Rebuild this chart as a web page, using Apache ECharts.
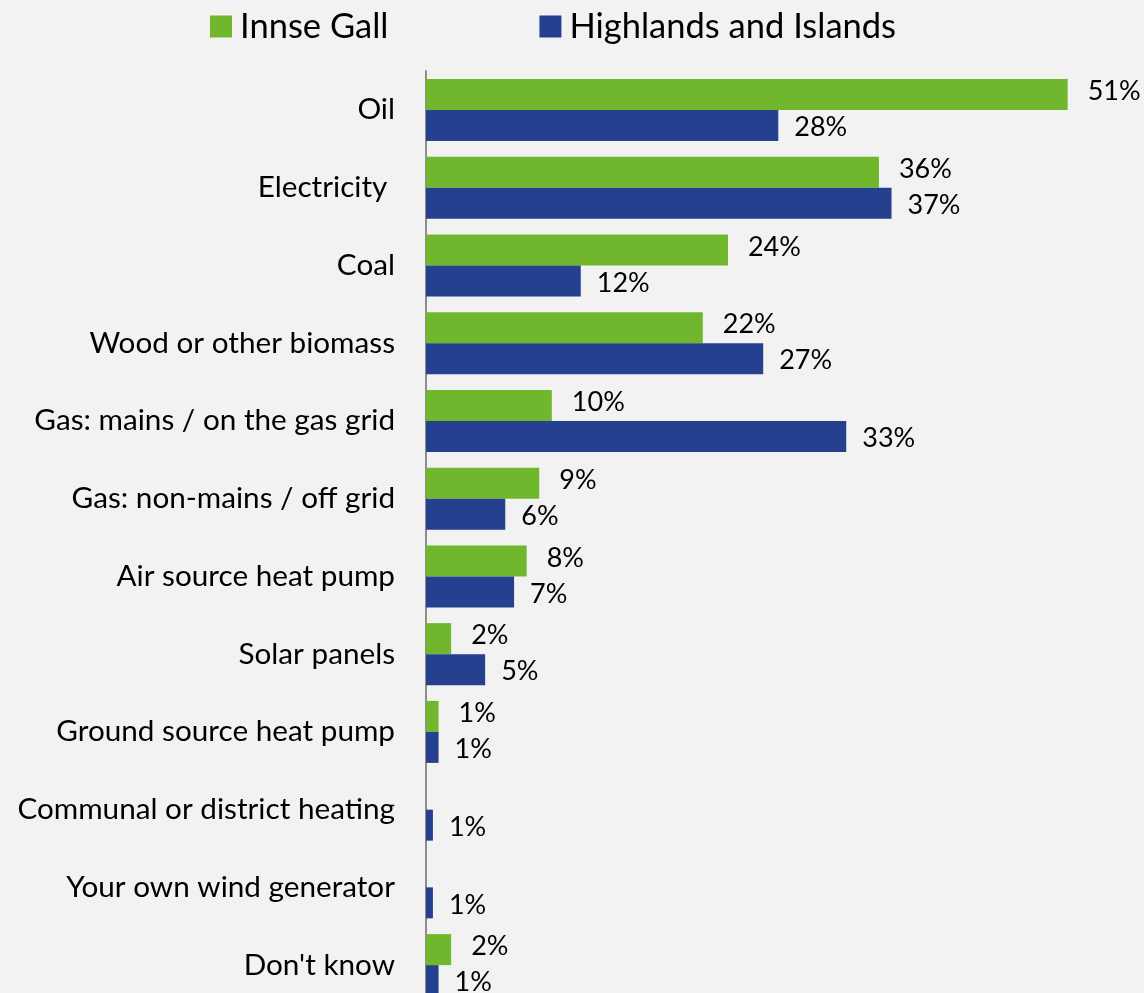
<!DOCTYPE html>
<html>
<head>
<meta charset="utf-8">
<script src="https://cdn.jsdelivr.net/npm/echarts@6/dist/echarts.min.js"></script>
<style>
html,body{margin:0;padding:0;background:#f2f2f2;overflow:hidden;}
#c{width:1144px;height:1012px;}
</style>
</head>
<body>
<div id="c"></div>
<script>
const categories = ["Oil","Electricity ","Coal","Wood or other biomass","Gas: mains / on the gas grid","Gas: non-mains / off grid","Air source heat pump","Solar panels","Ground source heat pump","Communal or district heating","Your own wind generator","Don't know"];
const seriesNames = ["Innse Gall","Highlands and Islands"];
const innseGall = [51, 36, 24, 22, 10, 9, 8, 2, 1, 0, 0, 2];
const highlands = [28, 37, 12.3, 26.8, 33.4, 6.3, 7, 4.7, 1, 0.55, 0.55, 1];

const chart = echarts.init(document.getElementById('c'));
const FONT = 'Lato';
function fmt(p){ return p.value > 0 ? Math.round(p.value) + '%' : ''; }
chart.setOption({
  backgroundColor: '#f2f2f2',
  animation: false,
  textStyle: { fontFamily: FONT, color: '#000' },
  legend: {
    top: 9, left: 210, padding: 0,
    itemWidth: 22, itemHeight: 22, itemGap: 151,
    icon: 'rect',
    textStyle: { fontSize: 34.5, fontFamily: FONT, color: '#000', padding: [0,0,0,3] },
    data: seriesNames
  },
  grid: { left: 426, top: 71, height: 933, width: 692, containLabel: false },
  xAxis: {
    type: 'value', min: 0, max: 55,
    show: false
  },
  yAxis: {
    type: 'category', inverse: true, data: categories,
    axisLine: { show: true, lineStyle: { color: '#8e8e8e', width: 2 } },
    axisTick: { show: false },
    axisLabel: { fontSize: 29.7, fontFamily: FONT, color: '#000', margin: 31 }
  },
  series: [
    {
      name: seriesNames[0], type: 'bar', data: innseGall,
      barWidth: 31, barGap: '0%',
      itemStyle: { color: '#71b72d' },
      label: { show: true, position: 'right', distance: 20, offset: [0, -3], formatter: fmt, fontSize: 27, fontFamily: FONT, color: '#000' }
    },
    {
      name: seriesNames[1], type: 'bar', data: highlands,
      barWidth: 31, barGap: '0%',
      itemStyle: { color: '#24408e' },
      label: { show: true, position: 'right', distance: 16, offset: [0, 2], formatter: fmt, fontSize: 27, fontFamily: FONT, color: '#000' }
    }
  ]
});
</script>
</body>
</html>
